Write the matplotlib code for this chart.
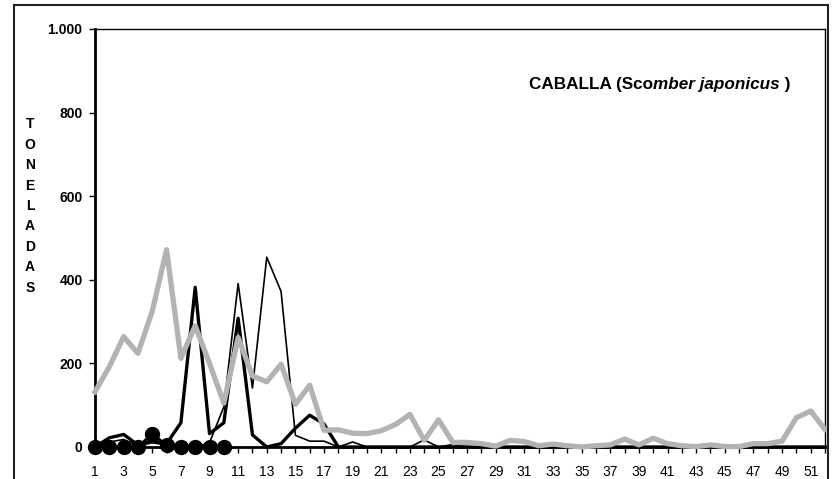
import matplotlib.pyplot as plt
import matplotlib.patches as mpatches
import numpy as np

plt.rcParams['font.family'] = ['Liberation Sans', 'DejaVu Sans']

semanas = np.arange(1, 53)

# gray thick series (all 52 weeks)
gris = [132, 192, 264, 224, 325, 472, 212, 290, 200, 105,
        262, 170, 156, 198, 102, 148, 40, 41, 33, 32,
        39, 54, 78, 16, 65, 11, 11, 8, 2, 16,
        13, 3, 7, 3, 0, 3, 5, 19, 5, 21,
        8, 3, 1, 5, 1, 1, 8, 8, 14, 70,
        86, 42]

# thick black series
grueso = [0, 22, 30, 5, 15, 8, 58, 382, 32, 58,
          308, 29, 0, 8, 45, 76, 55, 0, 0, 0,
          0, 0, 0, 0, 0, 0, 0, 0, 0, 0,
          0, 0, 0, 0, 0, 0, 0, 0, 0, 0,
          0, 0, 0, 0, 0, 0, 0, 0, 0, 0,
          0, 0]

# thin black series
fino = [0, 12, 18, 3, 10, 5, 0, 0, 10, 96,
        391, 141, 454, 372, 28, 14, 14, 0, 12, 0,
        0, 0, 0, 17, 0, 6, 0, 0, 0, 0,
        0, 0, 0, 0, 0, 0, 0, 0, 0, 0,
        0, 0, 0, 0, 0, 0, 0, 0, 0, 0,
        0, 0]

# black series with circle markers (weeks 1-10)
sem_pts = np.arange(1, 11)
puntos = [0, 0, 0, 0, 32, 4, 0, 0, 0, 0]

fig = plt.figure(figsize=(8.35, 4.79), dpi=100)
ax = fig.add_axes([95/835, 1-447/479, 730/835, 418/479])

# outer chart frame
marco = mpatches.Rectangle((14/835, -0.05), 814/835, 1.05-5/479,
                           transform=fig.transFigure, fill=False,
                           edgecolor='#222222', linewidth=1.5, zorder=0)
fig.patches.append(marco)

ax.plot(semanas, fino, color='black', lw=1.2, zorder=3, clip_on=False)
ax.plot(semanas, grueso, color='black', lw=2.4, zorder=3, clip_on=False)
ax.plot(semanas, gris, color='#b3b3b3', lw=3.8, zorder=4, clip_on=False)
ax.plot(sem_pts, puntos, color='black', lw=2, marker='o', markersize=10,
        zorder=5, clip_on=False)

ax.set_xlim(1, 52)
ax.set_ylim(0, 1000)
ax.set_xticks(semanas)
ax.set_xticklabels([str(s) if s % 2 == 1 else '' for s in semanas], fontsize=10)
ax.set_yticks(np.arange(0, 1001, 200))
ax.set_yticklabels(['0', '200', '400', '600', '800', '1.000'],
                   fontsize=10, fontweight='bold')
ax.tick_params(axis='x', direction='out', length=4, width=1, pad=9)
ax.tick_params(axis='y', direction='out', length=4, width=1, pad=5)

for lado in ['top', 'right']:
    ax.spines[lado].set_linewidth(1)
for lado in ['left', 'bottom']:
    ax.spines[lado].set_linewidth(2)

# title with italic part
t1 = ax.text(529/835, 1-89/479, 'CABALLA (Sco', transform=fig.transFigure,
             fontsize=12.3, fontweight='bold', va='baseline', ha='left')
t2 = ax.annotate('mber japonicus', xy=(1, 0), xycoords=t1, fontsize=12.3,
                 fontweight='bold', fontstyle='italic', va='bottom', ha='left')
t3 = ax.annotate(' )', xy=(1, 0), xycoords=t2, fontsize=12.3,
                 fontweight='bold', va='bottom', ha='left')

fig.text(30/835, 1-206/479, '\n'.join('TONELADAS'), fontsize=10,
         fontweight='bold', ha='center', va='center', linespacing=1.58)

fig.savefig('out.png', dpi=100)
